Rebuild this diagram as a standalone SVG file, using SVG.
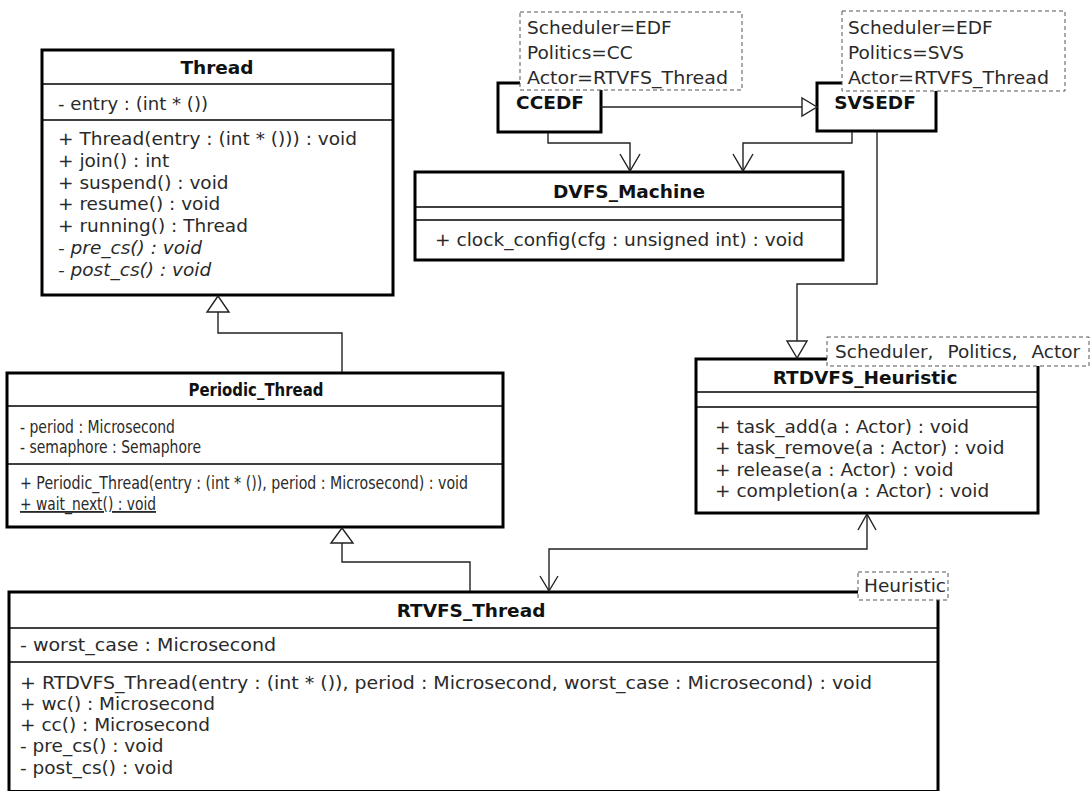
<svg xmlns="http://www.w3.org/2000/svg" width="1092" height="791" viewBox="0 0 1092 791">
<style>
.box{fill:#fff;stroke:#000;stroke-width:3}
.div{stroke:#000;stroke-width:1.3}
.t{font-family:"DejaVu Sans",sans-serif;font-size:18.5px;fill:#2a2a2a}
.b{font-family:"DejaVu Sans",sans-serif;font-size:18.5px;font-weight:bold;fill:#111;text-anchor:middle}
.i{font-style:italic}
.tpl{fill:#fff;stroke:#555;stroke-width:1;stroke-dasharray:4 3}
.ln{fill:none;stroke:#222;stroke-width:1.4}
.tri{fill:#fff;stroke:#222;stroke-width:1.4}
</style>
<rect width="1092" height="791" fill="#fff"/>
<g id="Thread">
<rect class="box" x="42" y="50" width="351" height="245"/>
<line class="div" x1="42" y1="84" x2="393" y2="84"/>
<line class="div" x1="42" y1="120" x2="393" y2="120"/>
<text class="b" x="217" y="74">Thread</text>
<text class="t" x="58" y="110" textLength="150" lengthAdjust="spacingAndGlyphs">- entry : (int * ())</text>
<text class="t" x="58" y="145" textLength="299" lengthAdjust="spacingAndGlyphs">+ Thread(entry : (int * ())) : void</text>
<text class="t" x="58" y="167">+ join() : int</text>
<text class="t" x="58" y="189">+ suspend() : void</text>
<text class="t" x="58" y="210">+ resume() : void</text>
<text class="t" x="58" y="232">+ running() : Thread</text>
<text class="t i" x="58" y="254">- pre_cs() : void</text>
<text class="t i" x="58" y="276">- post_cs() : void</text>
</g>
<g id="CCEDF">
<rect class="box" x="498" y="83" width="103" height="49"/>
<text class="b" x="550" y="109">CCEDF</text>
<rect class="tpl" x="520" y="12" width="222" height="78"/>
<text class="t" x="527" y="34">Scheduler=EDF</text>
<text class="t" x="527" y="59">Politics=CC</text>
<text class="t" x="527" y="84" textLength="201" lengthAdjust="spacingAndGlyphs">Actor=RTVFS_Thread</text>
</g>
<g id="SVSEDF">
<rect class="box" x="817" y="83" width="119" height="48"/>
<text class="b" x="875" y="109">SVSEDF</text>
<rect class="tpl" x="842" y="11" width="223" height="80"/>
<text class="t" x="848" y="34">Scheduler=EDF</text>
<text class="t" x="848" y="59">Politics=SVS</text>
<text class="t" x="848" y="84" textLength="201" lengthAdjust="spacingAndGlyphs">Actor=RTVFS_Thread</text>
</g>
<g id="DVFS_Machine">
<rect class="box" x="415" y="172" width="428" height="88"/>
<line class="div" x1="415" y1="207" x2="843" y2="207"/>
<line class="div" x1="415" y1="220" x2="843" y2="220"/>
<text class="b" x="629" y="198">DVFS_Machine</text>
<text class="t" x="435" y="246" textLength="369" lengthAdjust="spacingAndGlyphs">+ clock_config(cfg : unsigned int) : void</text>
</g>
<g id="RTDVFS_Heuristic">
<rect class="box" x="696" y="359" width="342" height="154"/>
<line class="div" x1="696" y1="392" x2="1038" y2="392"/>
<line class="div" x1="696" y1="407" x2="1038" y2="407"/>
<text class="b" x="865" y="384">RTDVFS_Heuristic</text>
<text class="t" x="715" y="433">+ task_add(a : Actor) : void</text>
<text class="t" x="715" y="454">+ task_remove(a : Actor) : void</text>
<text class="t" x="715" y="476">+ release(a : Actor) : void</text>
<text class="t" x="715" y="497">+ completion(a : Actor) : void</text>
<rect class="tpl" x="827" y="337" width="262" height="29"/>
<text class="t" x="835" y="358" word-spacing="8">Scheduler, Politics, Actor</text>
</g>
<g id="Periodic_Thread">
<rect class="box" x="7" y="373" width="496" height="154"/>
<line class="div" x1="7" y1="406" x2="503" y2="406"/>
<line class="div" x1="7" y1="464" x2="503" y2="464"/>
<text class="b" x="256" y="396" textLength="135" lengthAdjust="spacingAndGlyphs">Periodic_Thread</text>
<text class="t" x="20" y="433" textLength="155" lengthAdjust="spacingAndGlyphs">- period : Microsecond</text>
<text class="t" x="20" y="453" textLength="181" lengthAdjust="spacingAndGlyphs">- semaphore : Semaphore</text>
<text class="t" x="20" y="489" textLength="448" lengthAdjust="spacingAndGlyphs">+ Periodic_Thread(entry : (int * ()), period : Microsecond) : void</text>
<text class="t" x="20" y="510" textLength="136" lengthAdjust="spacingAndGlyphs" text-decoration="underline">+ wait_next() : void</text>
</g>
<g id="RTVFS_Thread">
<rect class="box" x="9" y="592" width="929" height="199.5"/>
<line class="div" x1="9" y1="628" x2="938" y2="628"/>
<line class="div" x1="9" y1="662" x2="938" y2="662"/>
<text class="b" x="471" y="617">RTVFS_Thread</text>
<text class="t" x="20" y="651" textLength="256" lengthAdjust="spacingAndGlyphs">- worst_case : Microsecond</text>
<text class="t" x="20" y="689" textLength="852" lengthAdjust="spacingAndGlyphs">+ RTDVFS_Thread(entry : (int * ()), period : Microsecond, worst_case : Microsecond) : void</text>
<text class="t" x="20" y="710">+ wc() : Microsecond</text>
<text class="t" x="20" y="731">+ cc() : Microsecond</text>
<text class="t" x="20" y="752">- pre_cs() : void</text>
<text class="t" x="20" y="774">- post_cs() : void</text>
<rect class="tpl" x="858" y="572" width="90" height="28"/>
<text class="t" x="864" y="592">Heuristic</text>
</g>
<g id="connectors">
<path class="ln" d="M601,107 H802"/>
<polygon class="tri" points="817,107 802,98 802,116"/>
<path class="ln" d="M548,133 V143 H630 V171"/>
<path class="ln" d="M620,154 L630,171 L640,154"/>
<path class="ln" d="M852,132 V143 H743 V171"/>
<path class="ln" d="M733,154 L743,171 L753,154"/>
<path class="ln" d="M877,132 V284 H797 V341"/>
<polygon class="tri" points="797,358 787,341 807,341"/>
<path class="ln" d="M342,372 V333 H218 V312"/>
<polygon class="tri" points="218,296 207,312 229,312"/>
<path class="ln" d="M470,591 V562 H342 V543"/>
<polygon class="tri" points="342,528 331,543 353,543"/>
<path class="ln" d="M549,591 V549 H867 V514"/>
<path class="ln" d="M540,576 L549,591 L558,576"/>
<path class="ln" d="M858,530 L867,514 L876,530"/>
</g>
</svg>
